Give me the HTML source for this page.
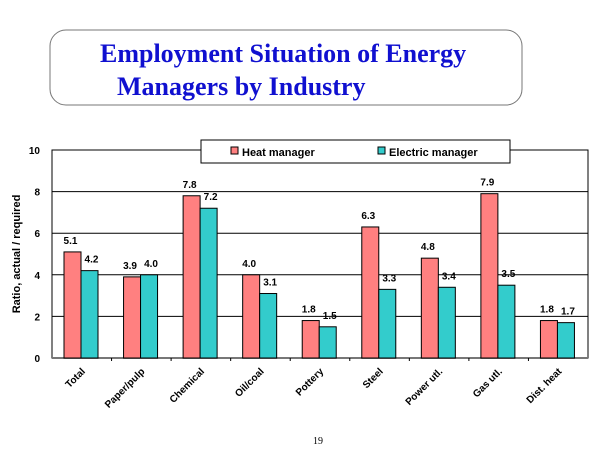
<!DOCTYPE html>
<html><head><meta charset="utf-8"><style>
body{margin:0;background:#fff;}
svg{display:block;font-family:"Liberation Sans",Arial,sans-serif;}
</style></head><body>
<svg width="600" height="450" viewBox="0 0 600 450">
<rect x="50" y="30" width="472" height="75" rx="16" fill="#fff" stroke="#777" stroke-width="1"/>
<text x="100" y="62" font-family="Liberation Serif,serif" font-weight="bold" font-size="26" fill="#1010d0">Employment Situation of Energy</text>
<text x="117" y="95" font-family="Liberation Serif,serif" font-weight="bold" font-size="26" fill="#1010d0">Managers by Industry</text>
<g id="plot"></g>
<text x="318" y="444" font-family="Liberation Serif,serif" font-size="10" text-anchor="middle">19</text>
</svg>
<script>
const categories=["Total","Paper/pulp","Chemical","Oil/coal","Pottery","Steel","Power utl.","Gas utl.","Dist. heat"];
const heatValues=[5.1,3.9,7.8,4.0,1.8,6.3,4.8,7.9,1.8];
const electricValues=[4.2,4.0,7.2,3.1,1.5,3.3,3.4,3.5,1.7];
const yTicks=[0,2,4,6,8,10];
const NS="http://www.w3.org/2000/svg";
const g=document.getElementById('plot');
const L=52,R=588,T=150,B=358,yMax=10;
const y=v=>B-(v/yMax)*(B-T);
const gw=(R-L)/categories.length;
const x=i=>L+i*gw;
function mk(t,a,p){const e=document.createElementNS(NS,t);for(const k in a)e.setAttribute(k,a[k]);(p||g).appendChild(e);return e;}
// gridlines
yTicks.forEach(v=>{
 if(v>0){const l=mk('line',{x1:L,x2:R,y1:y(v),y2:y(v),stroke:'#000','stroke-width':1});
 
 }
 const t=mk('text',{x:L-12,y:y(v)+4,'font-size':10,'font-weight':'bold','text-anchor':'end'});
 t.textContent=v;
 
 
});
const fr=mk('rect',{x:L,y:T,width:R-L,height:B-T,fill:'none',stroke:'#000','stroke-width':1});


const ax=mk('line',{x1:L,x2:R,y1:B,y2:B,stroke:'#777','stroke-width':2});


const yt=mk('text',{x:0,y:0,'font-size':11,'font-weight':'bold','text-anchor':'middle',transform:'translate(20,254) rotate(-90)'});
yt.textContent='Ratio, actual / required';


const bw=17;
categories.forEach((c,i)=>{
 const x0=x(i)+12;
 if(i>0){const tk=mk('line',{x1:x(i),x2:x(i),y1:B,y2:B+3,stroke:'#000'});
 
 }
 const h=mk('rect',{x:x0,y:y(heatValues[i]),width:bw,height:B-y(heatValues[i]),fill:'#ff8080',stroke:'#000','stroke-width':1});
 
 
 const e=mk('rect',{x:x0+bw,y:y(electricValues[i]),width:bw,height:B-y(electricValues[i]),fill:'#33cccc',stroke:'#000','stroke-width':1});
 
 
 const ht=mk('text',{x:x0+bw/2-2,y:y(heatValues[i])-8,'font-size':10,'font-weight':'bold','text-anchor':'middle'});
 ht.textContent=heatValues[i].toFixed(1);
 
 
 const et=mk('text',{x:x0+bw*1.5+2,y:y(electricValues[i])-8,'font-size':10,'font-weight':'bold','text-anchor':'middle'});
 et.textContent=electricValues[i].toFixed(1);
 
 
 const cx=x(i)+gw/2+4;
 const ct=mk('text',{x:0,y:0,'font-size':10,'font-weight':'bold','text-anchor':'end',transform:'translate('+cx+','+(B+14)+') rotate(-45)'});
 ct.textContent=c;
 
 
});
// legend
const lg=mk('rect',{x:201,y:140,width:309,height:23,fill:'#fff',stroke:'#000','stroke-width':1});


const s1=mk('rect',{x:231,y:147,width:7,height:7,fill:'#ff8080',stroke:'#000'});


const l1=mk('text',{x:242,y:156,'font-size':11,'font-weight':'bold'});
l1.textContent='Heat manager';


const s2=mk('rect',{x:378,y:147,width:7,height:7,fill:'#33cccc',stroke:'#000'});


const l2=mk('text',{x:389,y:156,'font-size':11,'font-weight':'bold'});
l2.textContent='Electric manager';


</script>
</body></html>
